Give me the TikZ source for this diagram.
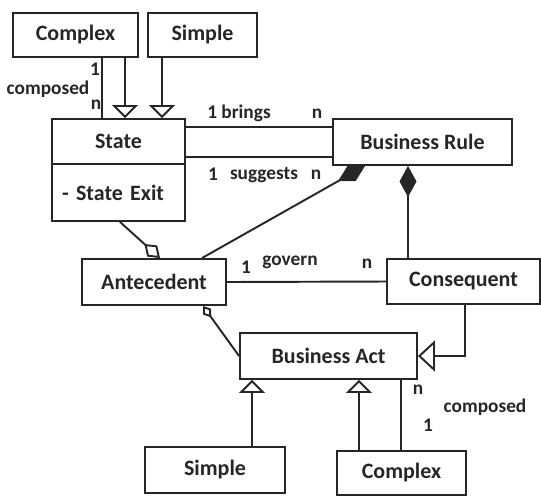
\documentclass[tikz,border=0pt]{standalone}
\usepackage{fontspec}
\setmainfont{Carlito}
\usetikzlibrary{arrows.meta}

\begin{document}
\begin{tikzpicture}[x=0.02cm, y=-0.02cm, line width=1.1pt, color=black!85,
  box/.style={draw, inner sep=0pt, font=\fontsize{12.5}{15}\selectfont\bfseries},
  lbl/.style={inner sep=0pt, font=\fontsize{11}{13}\selectfont\bfseries},
  gen/.style={-{Triangle[open, width=0.52cm, length=0.26cm]}},
  biggen/.style={-{Triangle[open, width=0.62cm, length=0.34cm]}},
  comp/.style={{Diamond[width=0.34cm, length=0.62cm]}-},
  agg/.style={{Diamond[open, width=0.3cm, length=0.42cm]}-},
  smallagg/.style={{Diamond[open, width=0.2cm, length=0.28cm]}-}]
\useasboundingbox (0,0) rectangle (541,495);

\node[box, minimum width=2.5cm, minimum height=0.88cm] (cplxS) at (75.5,35) {Complex};
\node[box, minimum width=2.18cm, minimum height=0.88cm] (simpS) at (202.5,35) {Simple};
\node[box, minimum width=2.66cm, minimum height=0.9cm] (state) at (118.5,141.5) {State};
\node[box, minimum width=2.66cm, minimum height=1.14cm, text width=2.26cm, align=left] (exit) at (118.5,192.5) {- State Exit};
\node[box, minimum width=3.58cm, minimum height=0.92cm] (rule) at (422.5,142) {Business Rule};
\node[box, minimum width=2.88cm, minimum height=0.92cm] (ante) at (154,282) {Antecedent};
\node[box, minimum width=3.06cm, minimum height=0.9cm] (cons) at (463.5,281.5) {Consequent};
\node[box, minimum width=3.54cm, minimum height=0.92cm] (act) at (328.5,356) {Business Act};
\node[box, minimum width=2.8cm, minimum height=0.92cm] (simpA) at (215,470) {Simple};
\node[box, minimum width=2.58cm, minimum height=0.88cm] (cplxA) at (401.5,473) {Complex};

\draw (cplxS.south -| 102,0) -- (state.north -| 102,0);
\draw[gen] (cplxS.south -| 125,0) -- (state.north -| 125,0);
\draw[gen] (simpS.south -| 162,0) -- (state.north -| 162,0);
\draw (state.east |- 0,127) -- (rule.west |- 0,127);
\draw (state.east |- 0,157) -- (rule.west |- 0,157);
\draw[comp] (rule.south -| 365,0) -- (ante.north -| 202,0);
\draw[comp] (rule.south -| 408,0) -- (cons.north -| 408,0);
\draw[agg] (ante.north -| 160,0) -- (exit.south -| 120,0);
\draw (ante.east) -- (cons.west);
\draw[smallagg] (ante.south -| 203,0) -- (act.west);
\draw[biggen] (cons.south -| 465,0) |- (act.east);
\draw[gen] (simpA.north -| 252,0) -- (act.south -| 252,0);
\draw[gen] (cplxA.north -| 359,0) -- (act.south -| 359,0);
\draw (cplxA.north -| 401,0) -- (act.south -| 401,0);

\node[lbl] (topOne) at (95,69) {1};
\node[lbl] (topComp) at (48,89) {composed};
\node[lbl] (topN) at (96,105) {n};
\node[lbl] (bringsOne) at (239,113) {1 brings};
\node[lbl] (bringsN) at (317,114) {n};
\node[lbl] (suggOne) at (213,174) {1};
\node[lbl] (sugg) at (264,175) {suggests};
\node[lbl] (suggN) at (316,175) {n};
\node[lbl] (govOne) at (246,267) {1};
\node[lbl] (gov) at (290,262) {govern};
\node[lbl] (govN) at (367,264) {n};
\node[lbl] (botN) at (418,390) {n};
\node[lbl] (botComp) at (485,407) {composed};
\node[lbl] (botOne) at (428,425) {1};
\end{tikzpicture}
\end{document}
